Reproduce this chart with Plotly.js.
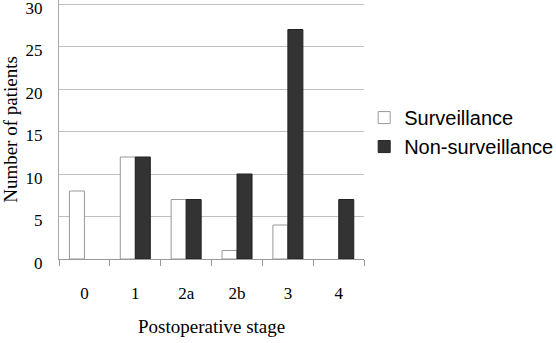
<!DOCTYPE html>
<html>
<head>
<meta charset="utf-8">
<script src="https://cdn.plot.ly/plotly-3.0.1.min.js"></script>
<style>html,body{margin:0;padding:0;background:#fff;}#chart{width:556px;height:343px;}</style>
</head>
<body>
<div id="chart"></div>
<script>
var categories = ["0", "1", "2a", "2b", "3", "4"];
var surveillance = [8, 12, 7, 1, 4, 0];
var nonSurveillance = [0, 12, 7, 10, 27, 7];
var yTicks = [0, 5, 10, 15, 20, 25, 30];

function hideZero(v) { return v === 0 ? null : v; }

var traces = [
  {type: "bar", name: "Surveillance", x: categories, y: surveillance.map(hideZero),
   marker: {color: "#ffffff", line: {color: "#999999", width: 1}}},
  {type: "bar", name: "Non-surveillance", x: categories, y: nonSurveillance.map(hideZero),
   marker: {color: "#333333", line: {color: "#222222", width: 1}}}
];

var layout = {
  width: 556, height: 343,
  margin: {l: 59, r: 190, t: 0, b: 84},
  paper_bgcolor: "#ffffff", plot_bgcolor: "#ffffff",
  barmode: "group", bargap: 0.41, bargroupgap: 0,
  font: {family: "Liberation Serif, Times New Roman, serif", color: "#000"},
  xaxis: {
    type: "category", tickson: "boundaries", ticks: "outside", ticklen: 6,
    tickcolor: "#999999", showgrid: false, showline: true, linecolor: "#999999",
    tickfont: {size: 17, family: "Liberation Serif, serif"}, ticklabelstandoff: 19,
    title: {text: "Postoperative stage", font: {size: 19, family: "Liberation Serif, serif"}, standoff: 17},
    automargin: false, zeroline: false
  },
  yaxis: {
    range: [0, 30.47], tickvals: yTicks, ticktext: yTicks.map(String),
    showgrid: true, gridcolor: "#c0c0c0", gridwidth: 1,
    showline: true, linecolor: "#aaaaaa", zeroline: false, ticks: "",
    tickfont: {size: 17, family: "Liberation Serif, serif"}, ticklabelstandoff: 12,
    ticklabelshift: 4, ticklabeloverflow: "allow",
    title: {text: "Number of patients", font: {size: 19, family: "Liberation Serif, serif"}, standoff: 10},
    automargin: false
  },
  legend: {
    x: 0.655, xref: "container", xanchor: "left", y: 0.49, yanchor: "middle",
    font: {size: 20, family: "Liberation Sans, Arial, sans-serif"},
    bgcolor: "rgba(0,0,0,0)", tracegroupgap: 0
  },
  showlegend: true
};
Plotly.newPlot("chart", traces, layout, {displayModeBar: false, staticPlot: true});
</script>
</body>
</html>
